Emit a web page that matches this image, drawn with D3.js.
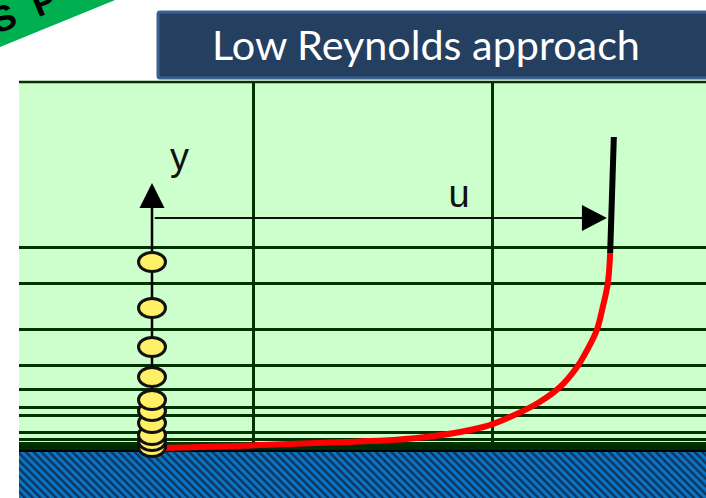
<!DOCTYPE html>
<html>
<head>
<meta charset="utf-8">
<script src="https://cdn.jsdelivr.net/npm/d3@7"></script>
<style>
  html, body { margin: 0; padding: 0; background: #fff; }
  svg { display: block; }
</style>
</head>
<body>
<div id="chart"></div>
<script>
// ── Data ─────────────────────────────────────────────────────────
// wall distance of the horizontal mesh lines (arbitrary units, wall = 0)
const meshY = [20.5, 16.9, 12.3, 8.7, 6.3, 4.5, 3.7, 2.0, 1.3, 0.9];
// streamwise mesh lines, in u / U (%)
const meshX = [22, 74];
// cell-centre nodes (yellow ovals)
const nodeY = [19.0, 14.4, 10.5, 7.5, 5.2, 4.1, 2.9, 1.7, 1.1, 0.5];
// velocity profile resolved down to the wall (red)
const profileU = [0, 2.8, 35.9, 57.6, 72.0, 77.8, 83.9, 88.7, 92.4, 94.6, 96.7, 98.0, 99.1, 99.6];
const profileY = [0.4, 0.4, 0.9, 1.4, 2.5, 3.5, 4.9, 6.5, 8.5, 10.2, 12.2, 14.5, 16.9, 19.9];
// outer part of the profile (black)
const outerU = [99.6, 100.0, 100.4];
const outerY = [19.9, 25.7, 31.5];

const titleText = 'Low Reynolds approach';

// ── Layout ───────────────────────────────────────────────────────
const W = 706, H = 498;
const panel = { left: 19, right: 706, top: 82, wall: 452 };

const svg = d3.select('#chart')
  .append('svg')
  .attr('width', W)
  .attr('height', H);

const x = d3.scaleLinear().domain([0, 100]).range([152, 612]);
const y = d3.scaleLinear().domain([0, 37]).range([panel.wall, panel.top]);

const gridColor = '#013301';

// hatch pattern for the wall
const defs = svg.append('defs');
const hatch = defs.append('pattern')
  .attr('id', 'hatch')
  .attr('patternUnits', 'userSpaceOnUse')
  .attr('width', 5.5).attr('height', 5.5)
  .attr('patternTransform', 'rotate(-45)');
hatch.append('rect').attr('width', 5.5).attr('height', 5.5).attr('fill', '#0b74c4');
hatch.append('rect').attr('width', 2.3).attr('height', 5.5).attr('fill', '#0e3358');

// ── Corner ribbon ────────────────────────────────────────────────
const ribbon = svg.append('g').attr('transform', 'translate(0,47) rotate(-22.2)');
ribbon.append('rect')
  .attr('x', -120).attr('y', -80).attr('width', 400).attr('height', 80)
  .attr('fill', '#00b050');
ribbon.append('text')
  .attr('x', 2).attr('y', -13)
  .attr('font-family', 'Liberation Sans, Arial, sans-serif')
  .attr('font-weight', 700)
  .attr('font-size', 36)
  .attr('letter-spacing', 5)
  .attr('fill', '#000')
  .text('S P');

// ── Title box ────────────────────────────────────────────────────
svg.append('rect')
  .attr('x', 158).attr('y', 12).attr('width', 560).attr('height', 66)
  .attr('rx', 2)
  .attr('fill', '#243f60')
  .attr('stroke', '#3c6191')
  .attr('stroke-width', 3);

const title = svg.append('text')
  .attr('x', 426).attr('y', 60)
  .attr('text-anchor', 'middle')
  .attr('font-family', 'Lato, Open Sans, sans-serif')
  .attr('font-size', 38)
  .attr('fill', '#fff')
  .text(titleText);
const tw = title.node().getComputedTextLength();
title.attr('font-size', 38 * 428 / tw);

// ── Panel & mesh ─────────────────────────────────────────────────
svg.append('rect')
  .attr('x', panel.left).attr('y', panel.top)
  .attr('width', panel.right - panel.left).attr('height', panel.wall - panel.top)
  .attr('fill', '#ccffcc');

svg.append('line')
  .attr('x1', panel.left).attr('x2', panel.right)
  .attr('y1', panel.top).attr('y2', panel.top)
  .attr('stroke', gridColor).attr('stroke-width', 2.5);

svg.selectAll('.mesh-v')
  .data(meshX)
  .enter()
  .append('line')
  .attr('class', 'mesh-v')
  .attr('x1', d => Math.round(x(d)) + 0.5).attr('x2', d => Math.round(x(d)) + 0.5)
  .attr('y1', panel.top).attr('y2', panel.wall)
  .attr('stroke', gridColor).attr('stroke-width', 3);

svg.selectAll('.mesh-h')
  .data(meshY)
  .enter()
  .append('line')
  .attr('class', 'mesh-h')
  .attr('x1', panel.left).attr('x2', panel.right)
  .attr('y1', d => Math.round(y(d)) + 0.5).attr('y2', d => Math.round(y(d)) + 0.5)
  .attr('stroke', gridColor).attr('stroke-width', 3);

// dark band just above the wall
svg.append('rect')
  .attr('x', panel.left).attr('y', y(0.7))
  .attr('width', panel.right - panel.left).attr('height', panel.wall - y(0.7))
  .attr('fill', '#002a00');
svg.append('line')
  .attr('x1', panel.left).attr('x2', panel.right)
  .attr('y1', panel.wall - 1).attr('y2', panel.wall - 1)
  .attr('stroke', '#000').attr('stroke-width', 2);

// wall
svg.append('rect')
  .attr('x', panel.left).attr('y', panel.wall)
  .attr('width', panel.right - panel.left).attr('height', H - panel.wall)
  .attr('fill', 'url(#hatch)');

// ── Velocity profile ─────────────────────────────────────────────
const line = d3.line()
  .x(d => x(d[0]))
  .y(d => y(d[1]))
  .curve(d3.curveCatmullRom.alpha(0.5));

svg.append('path')
  .datum(profileU.map((u, i) => [u, profileY[i]]))
  .attr('d', line)
  .attr('fill', 'none')
  .attr('stroke', '#ff0000')
  .attr('stroke-width', 6);

svg.append('path')
  .datum(outerU.map((u, i) => [u, outerY[i]]))
  .attr('d', line)
  .attr('fill', 'none')
  .attr('stroke', '#000')
  .attr('stroke-width', 6);

// ── Axes arrows ──────────────────────────────────────────────────
const axisFont = 'Liberation Sans, Arial, sans-serif';
const yTip = 26.9, uLevel = 23.4, uTip = 98.9;

svg.append('line')
  .attr('x1', x(0)).attr('x2', x(0))
  .attr('y1', y(-0.3)).attr('y2', y(yTip) + 20)
  .attr('stroke', '#000').attr('stroke-width', 2.5);
svg.append('path')
  .attr('d', `M${x(0)},${y(yTip)} L${x(0) + 12.5},${y(yTip) + 25} L${x(0) - 12.5},${y(yTip) + 25} Z`)
  .attr('fill', '#000');
svg.append('text')
  .attr('x', x(0) + 18).attr('y', y(yTip) - 13)
  .attr('font-family', axisFont).attr('font-size', 38)
  .attr('fill', '#111')
  .text('y');

svg.append('line')
  .attr('x1', x(0.6)).attr('x2', x(uTip) - 20)
  .attr('y1', y(uLevel)).attr('y2', y(uLevel))
  .attr('stroke', '#111').attr('stroke-width', 2);
svg.append('path')
  .attr('d', `M${x(uTip)},${y(uLevel)} L${x(uTip) - 25},${y(uLevel) - 13} L${x(uTip) - 25},${y(uLevel) + 13} Z`)
  .attr('fill', '#000');
svg.append('text')
  .attr('x', 459).attr('y', y(uLevel) - 11)
  .attr('text-anchor', 'middle')
  .attr('font-family', axisFont).attr('font-size', 38)
  .attr('fill', '#111')
  .text('u');

// ── Nodes ────────────────────────────────────────────────────────
svg.selectAll('.node')
  .data(nodeY.slice().sort((a, b) => a - b))
  .enter()
  .append('ellipse')
  .attr('class', 'node')
  .attr('cx', x(0))
  .attr('cy', d => y(d))
  .attr('rx', 13.5)
  .attr('ry', 9.5)
  .attr('fill', '#fff066')
  .attr('stroke', '#111')
  .attr('stroke-width', 3);
</script>
</body>
</html>
